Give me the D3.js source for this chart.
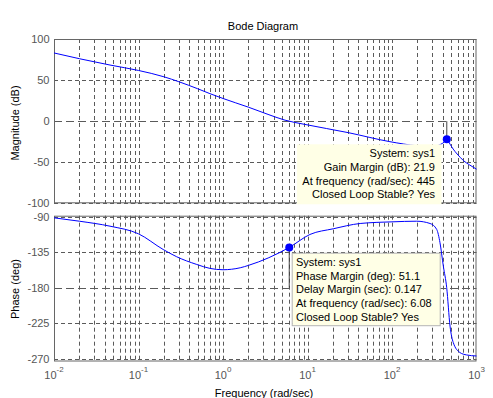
<!DOCTYPE html>
<html>
<head>
<meta charset="utf-8">
<script src="https://cdn.jsdelivr.net/npm/d3@7"></script>
<style>
  html, body { margin: 0; padding: 0; background: #fff; }
  svg { display: block; font-family: "Liberation Sans", Arial, sans-serif; }
</style>
</head>
<body>
<svg id="chart" width="493" height="398"></svg>
<script>
// ---- data ----
const magFreq = [0.01, 0.02, 0.046, 0.1, 0.2, 0.3, 0.5, 0.7, 1, 2, 3.5, 5.42, 9.34, 30.4, 94.6, 200, 300, 380, 420, 445, 486, 530, 590, 640, 700, 820, 1000];
const magDb   = [83, 76, 68.3, 61.7, 54, 48, 39.5, 33.5, 27.6, 17, 7.8, 1.2, -4, -14, -25, -30, -31, -28, -25, -21.9, -28, -34, -40, -44, -48, -53, -58.5];

const phaseFreq = [0.01, 0.02, 0.046, 0.1, 0.196, 0.283, 0.489, 0.7, 1, 1.6, 2, 6.08, 10.7, 20.2, 42, 100, 196, 282, 338, 370, 405, 444, 486, 531, 638, 765, 1000];
const phaseDeg  = [-91.3, -95.6, -101.9, -111.6, -131.5, -140.7, -150.5, -155.5, -157.2, -154.7, -151.7, -128.9, -112.4, -105.2, -98.5, -96.4, -95.6, -98.5, -106, -123, -152.6, -180, -228.7, -249.7, -262.4, -265.4, -266.7];

const magTicks = [-100, -50, 0, 50, 100];
const phaseTicks = [-270, -225, -180, -135, -90];
const freqExponents = [-2, -1, 0, 1, 2, 3];

const gainMargin = { freq: 445, db: -21.9 };
const phaseMargin = { freq: 6.08, phase: -128.9 };
const gainText = ["System: sys1", "Gain Margin (dB): 21.9", "At frequency (rad/sec): 445", "Closed Loop Stable? Yes"];
const phaseText = ["System: sys1", "Phase Margin (deg): 51.1", "Delay Margin (sec): 0.147", "At frequency (rad/sec): 6.08", "Closed Loop Stable? Yes"];

// ---- layout ----
const svg = d3.select("#chart");
const L = 54, R = 476.5;
const magTop = 39, magBot = 203.3;
const phTop = 215.7, phBot = 361.5;

const x = d3.scaleLog().domain([0.01, 1000]).range([L, R]);
const yMag = d3.scaleLinear().domain([-100, 100]).range([magBot, magTop]);
const yPh = d3.scaleLinear().domain([-273.7, -88.6]).range([phBot, phTop]);

const gridColor = "#5a5a5a";
const axisColor = "#666";
const tickTextColor = "#555";

// vertical grid positions (major + minor)
const vGrid = [];
for (let e = -2; e < 3; e++) {
  for (let m = 1; m <= 9; m++) vGrid.push(m * Math.pow(10, e));
}
vGrid.push(1000);

function drawPanel(yScale, ticks, top, bot, special) {
  const g = svg.append("g");
  g.append("rect").attr("x", L).attr("y", top).attr("width", R - L).attr("height", bot - top)
    .attr("fill", "#fff");
  g.selectAll("line.vg").data(vGrid.filter(v => v > 0.01 && v < 1000)).enter().append("line")
    .attr("x1", d => Math.round(x(d)) + 0.5).attr("x2", d => Math.round(x(d)) + 0.5)
    .attr("y1", top).attr("y2", bot)
    .attr("stroke", gridColor).attr("stroke-width", 1).attr("stroke-dasharray", "4,3");
  g.selectAll("line.hg").data(ticks).enter().append("line")
    .attr("x1", L).attr("x2", R)
    .attr("y1", d => Math.round(yScale(d)) + 0.5).attr("y2", d => Math.round(yScale(d)) + 0.5)
    .attr("stroke", gridColor).attr("stroke-width", 1)
    .attr("stroke-dasharray", d => d === special ? "8,4" : "4,3");
  g.selectAll("text.yt").data(ticks).enter().append("text")
    .attr("x", 49.5).attr("y", d => yScale(d) + 4)
    .attr("text-anchor", "end").attr("font-size", 11).attr("fill", tickTextColor)
    .text(d => d);
  return g;
}

function drawBorder(top, bot) {
  svg.append("rect").attr("x", L + 0.5).attr("y", top + 0.5)
    .attr("width", R - L - 1).attr("height", bot - top - 1)
    .attr("fill", "none").attr("stroke", axisColor).attr("stroke-width", 1);
}

// ---- magnitude panel ----
drawPanel(yMag, magTicks, magTop, magBot, 0);
drawBorder(magTop, magBot);

const magLine = d3.line().x(d => x(d[0])).y(d => yMag(d[1])).curve(d3.curveMonotoneX);
svg.append("path").datum(magFreq.map((f, i) => [f, magDb[i]]))
  .attr("d", magLine).attr("fill", "none").attr("stroke", "#0000ff").attr("stroke-width", 1);

svg.append("line")
  .attr("x1", x(gainMargin.freq)).attr("x2", x(gainMargin.freq))
  .attr("y1", yMag(0)).attr("y2", yMag(gainMargin.db))
  .attr("stroke", "#444").attr("stroke-width", 1);
svg.append("circle").attr("cx", x(gainMargin.freq)).attr("cy", yMag(gainMargin.db))
  .attr("r", 4).attr("fill", "#0000ff");

svg.append("rect").attr("x", 297).attr("y", 144.3).attr("width", 144.5).attr("height", 60)
  .attr("fill", "#ffffe6");
svg.append("g").selectAll("text").data(gainText).enter().append("text")
  .attr("x", 435).attr("y", (d, i) => 157 + i * 13.8)
  .attr("text-anchor", "end").attr("font-size", 11).attr("fill", "#000")
  .text(d => d);

// ---- phase panel ----
drawPanel(yPh, phaseTicks, phTop, phBot, -180);
drawBorder(phTop, phBot);

const phLine = d3.line().x(d => x(d[0])).y(d => yPh(d[1])).curve(d3.curveMonotoneX);
svg.append("path").datum(phaseFreq.map((f, i) => [f, phaseDeg[i]]))
  .attr("d", phLine).attr("fill", "none").attr("stroke", "#0000ff").attr("stroke-width", 1);

svg.append("line")
  .attr("x1", x(phaseMargin.freq)).attr("x2", x(phaseMargin.freq))
  .attr("y1", yPh(phaseMargin.phase)).attr("y2", yPh(-180))
  .attr("stroke", "#444").attr("stroke-width", 1);
svg.append("circle").attr("cx", x(phaseMargin.freq)).attr("cy", yPh(phaseMargin.phase))
  .attr("r", 4).attr("fill", "#0000ff");

svg.append("rect").attr("x", 292.2).attr("y", 253.2).attr("width", 148).attr("height", 72.5)
  .attr("fill", "#ffffe6").attr("stroke", "#b4b4b4").attr("stroke-width", 1);
svg.append("g").selectAll("text").data(phaseText).enter().append("text")
  .attr("x", 296).attr("y", (d, i) => 265.7 + i * 13.8)
  .attr("text-anchor", "start").attr("font-size", 11).attr("fill", "#000")
  .text(d => d);

// ---- x tick labels ----
const xt = svg.append("g").selectAll("text").data(freqExponents).enter().append("text")
  .attr("x", d => x(Math.pow(10, d))).attr("y", 378.5)
  .attr("text-anchor", "middle").attr("font-size", 11).attr("fill", tickTextColor);
xt.append("tspan").text("10");
xt.append("tspan").attr("dy", -7).attr("font-size", 8).text(d => d);

// ---- titles ----
svg.append("text").attr("x", 263).attr("y", 30).attr("text-anchor", "middle")
  .attr("font-size", 11).attr("fill", "#000").text("Bode Diagram");
svg.append("text").attr("x", 264).attr("y", 397).attr("text-anchor", "middle")
  .attr("font-size", 11).attr("fill", "#000").text("Frequency  (rad/sec)");
svg.append("text").attr("transform", "translate(19,123) rotate(-90)").attr("text-anchor", "middle")
  .attr("font-size", 11).attr("fill", "#000").text("Magnitude (dB)");
svg.append("text").attr("transform", "translate(19,289) rotate(-90)").attr("text-anchor", "middle")
  .attr("font-size", 11).attr("fill", "#000").text("Phase (deg)");
</script>
</body>
</html>
